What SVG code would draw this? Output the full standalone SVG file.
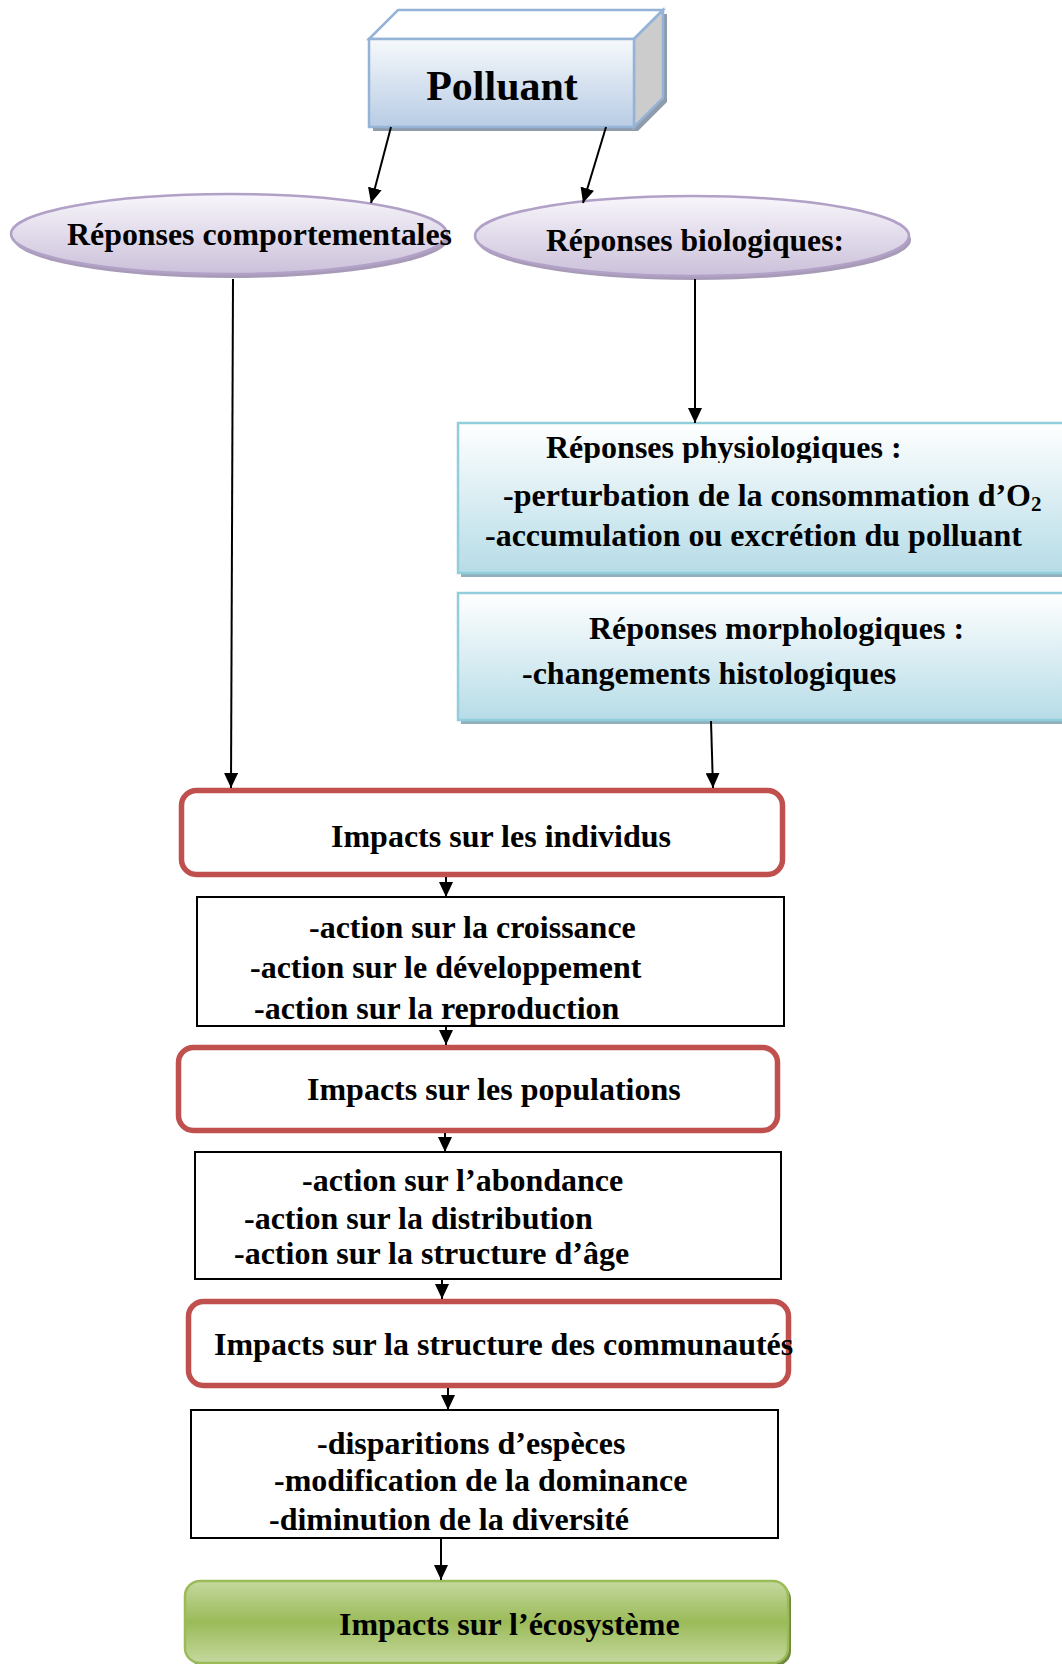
<svg xmlns="http://www.w3.org/2000/svg" width="1062" height="1664" viewBox="0 0 1062 1664">
<defs>
<linearGradient id="gBlue" x1="0" y1="0" x2="0" y2="1"><stop offset="0" stop-color="#f6f9fc"/><stop offset="1" stop-color="#b8cce4"/></linearGradient>
<linearGradient id="gLav" x1="0" y1="0" x2="0" y2="1"><stop offset="0" stop-color="#f8f6fb"/><stop offset="1" stop-color="#cbc0da"/></linearGradient>
<linearGradient id="gCyan" x1="0" y1="0" x2="0" y2="1"><stop offset="0" stop-color="#ffffff"/><stop offset="1" stop-color="#b6dce7"/></linearGradient>
<linearGradient id="gGreen" x1="0" y1="0" x2="0" y2="1"><stop offset="0" stop-color="#c4d89e"/><stop offset="0.5" stop-color="#9bbb59"/><stop offset="1" stop-color="#c4d89e"/></linearGradient>
<marker id="arr" markerUnits="userSpaceOnUse" markerWidth="16" markerHeight="14" refX="15" refY="7" orient="auto" viewBox="0 0 16 14"><path d="M0,0 L15,7 L0,14 z" fill="#000"/></marker>
<clipPath id="clipPhys"><rect x="440" y="420" width="622" height="43"/></clipPath>
</defs>
<style>
text{font-family:"Liberation Serif","Times New Roman",serif;font-weight:bold;fill:#000;font-size:32px}
.ell{font-size:31px}
.conn{stroke:#000;stroke-width:2;fill:none;marker-end:url(#arr)}
.red{fill:#fff;stroke:#c0504d;stroke-width:5.5}
.blk{fill:#fff;stroke:#000;stroke-width:2}
.cyan{fill:url(#gCyan);stroke:#92cddc;stroke-width:2.5}
.cyanSh{fill:#8fb0bc}
</style>
<rect width="1062" height="1664" fill="#fff"/>

<g id="polluant">
<polygon points="373,43 402,14 667,14 667,102 638,131 373,131" fill="#8e9bab"/>
<polygon points="369,39 398,10 663,10 634,39" fill="#ffffff" stroke="#95b3d7" stroke-width="2.5"/>
<polygon points="634,39 663,10 663,98 634,127" fill="#cccccc" stroke="#95b3d7" stroke-width="2.5"/>
<rect x="369" y="39" width="265" height="88" fill="url(#gBlue)" stroke="#95b3d7" stroke-width="2.5"/>
<text x="502" y="100" text-anchor="middle" style="font-size:42px">Polluant</text>
</g>

<g id="rep-comportementales">
<ellipse cx="231" cy="238" rx="218" ry="40" fill="#a89bb8"/>
<ellipse cx="229" cy="234" rx="218" ry="40" fill="url(#gLav)" stroke="#b2a1c7" stroke-width="2.5"/>
<text class="ell" x="67" y="245" textLength="385" lengthAdjust="spacingAndGlyphs">Réponses comportementales</text>
</g>

<g id="rep-biologiques">
<ellipse cx="694" cy="240" rx="217" ry="40" fill="#a89bb8"/>
<ellipse cx="692" cy="236" rx="217" ry="40" fill="url(#gLav)" stroke="#b2a1c7" stroke-width="2.5"/>
<text class="ell" x="546" y="251" textLength="298" lengthAdjust="spacingAndGlyphs">Réponses biologiques:</text>
</g>

<g id="rep-physiologiques">
<rect class="cyanSh" x="461" y="427" width="620" height="150"/>
<rect class="cyan" x="458" y="423" width="620" height="150"/>
<text x="546" y="458" clip-path="url(#clipPhys)">Réponses physiologiques :</text>
<text x="503" y="506">-perturbation de la consommation d’O<tspan style="font-size:21px" dy="5">2</tspan></text>
<text x="485" y="546">-accumulation ou excrétion du polluant</text>
</g>

<g id="rep-morphologiques">
<rect class="cyanSh" x="461" y="597" width="620" height="127"/>
<rect class="cyan" x="458" y="593" width="620" height="127"/>
<text x="589" y="639">Réponses morphologiques :</text>
<text x="522" y="684">-changements histologiques</text>
</g>

<g id="impacts-individus">
<rect class="red" x="181.5" y="790.5" width="601" height="84" rx="15"/>
<text x="331" y="847">Impacts sur les individus</text>
</g>

<g id="actions-individus">
<rect class="blk" x="197" y="897" width="587" height="129"/>
<text x="309" y="938">-action sur la croissance</text>
<text x="250" y="978">-action sur le développement</text>
<text x="254" y="1019">-action sur la reproduction</text>
</g>

<g id="impacts-populations">
<rect class="red" x="178.5" y="1047.5" width="599" height="83" rx="15"/>
<text x="307" y="1100">Impacts sur les populations</text>
</g>

<g id="actions-populations">
<rect class="blk" x="195" y="1152" width="586" height="127"/>
<text x="302" y="1191">-action sur l’abondance</text>
<text x="244" y="1229">-action sur la distribution</text>
<text x="234" y="1264">-action sur la structure d’âge</text>
</g>

<g id="impacts-communautes">
<rect class="red" x="188.5" y="1301.5" width="600" height="84" rx="15"/>
<text x="214" y="1355">Impacts sur la structure des communautés</text>
</g>

<g id="actions-communautes">
<rect class="blk" x="191" y="1410" width="587" height="128"/>
<text x="317" y="1454">-disparitions d’espèces</text>
<text x="274" y="1491">-modification de la dominance</text>
<text x="269" y="1530">-diminution de la diversité</text>
</g>

<g id="impacts-ecosysteme">
<rect x="188" y="1584" width="603" height="82" rx="15" fill="#6f8a3a"/>
<rect x="185" y="1581" width="603" height="82" rx="15" fill="url(#gGreen)" stroke="#9bbb59" stroke-width="2.5"/>
<text x="339" y="1635">Impacts sur l’écosystème</text>
</g>

<g id="connectors">
<line class="conn" x1="391" y1="127" x2="371" y2="203"/>
<line class="conn" x1="606" y1="127" x2="583" y2="203"/>
<line class="conn" x1="233" y1="279" x2="231" y2="788"/>
<line class="conn" x1="695" y1="279" x2="695" y2="423"/>
<line class="conn" x1="711" y1="721" x2="713" y2="788"/>
<line class="conn" x1="446" y1="877" x2="446" y2="897"/>
<line class="conn" x1="446" y1="1026" x2="446" y2="1045"/>
<line class="conn" x1="445" y1="1133" x2="445" y2="1152"/>
<line class="conn" x1="442" y1="1279" x2="442" y2="1299"/>
<line class="conn" x1="448" y1="1388" x2="448" y2="1410"/>
<line class="conn" x1="441" y1="1538" x2="441" y2="1580"/>
</g>
</svg>
